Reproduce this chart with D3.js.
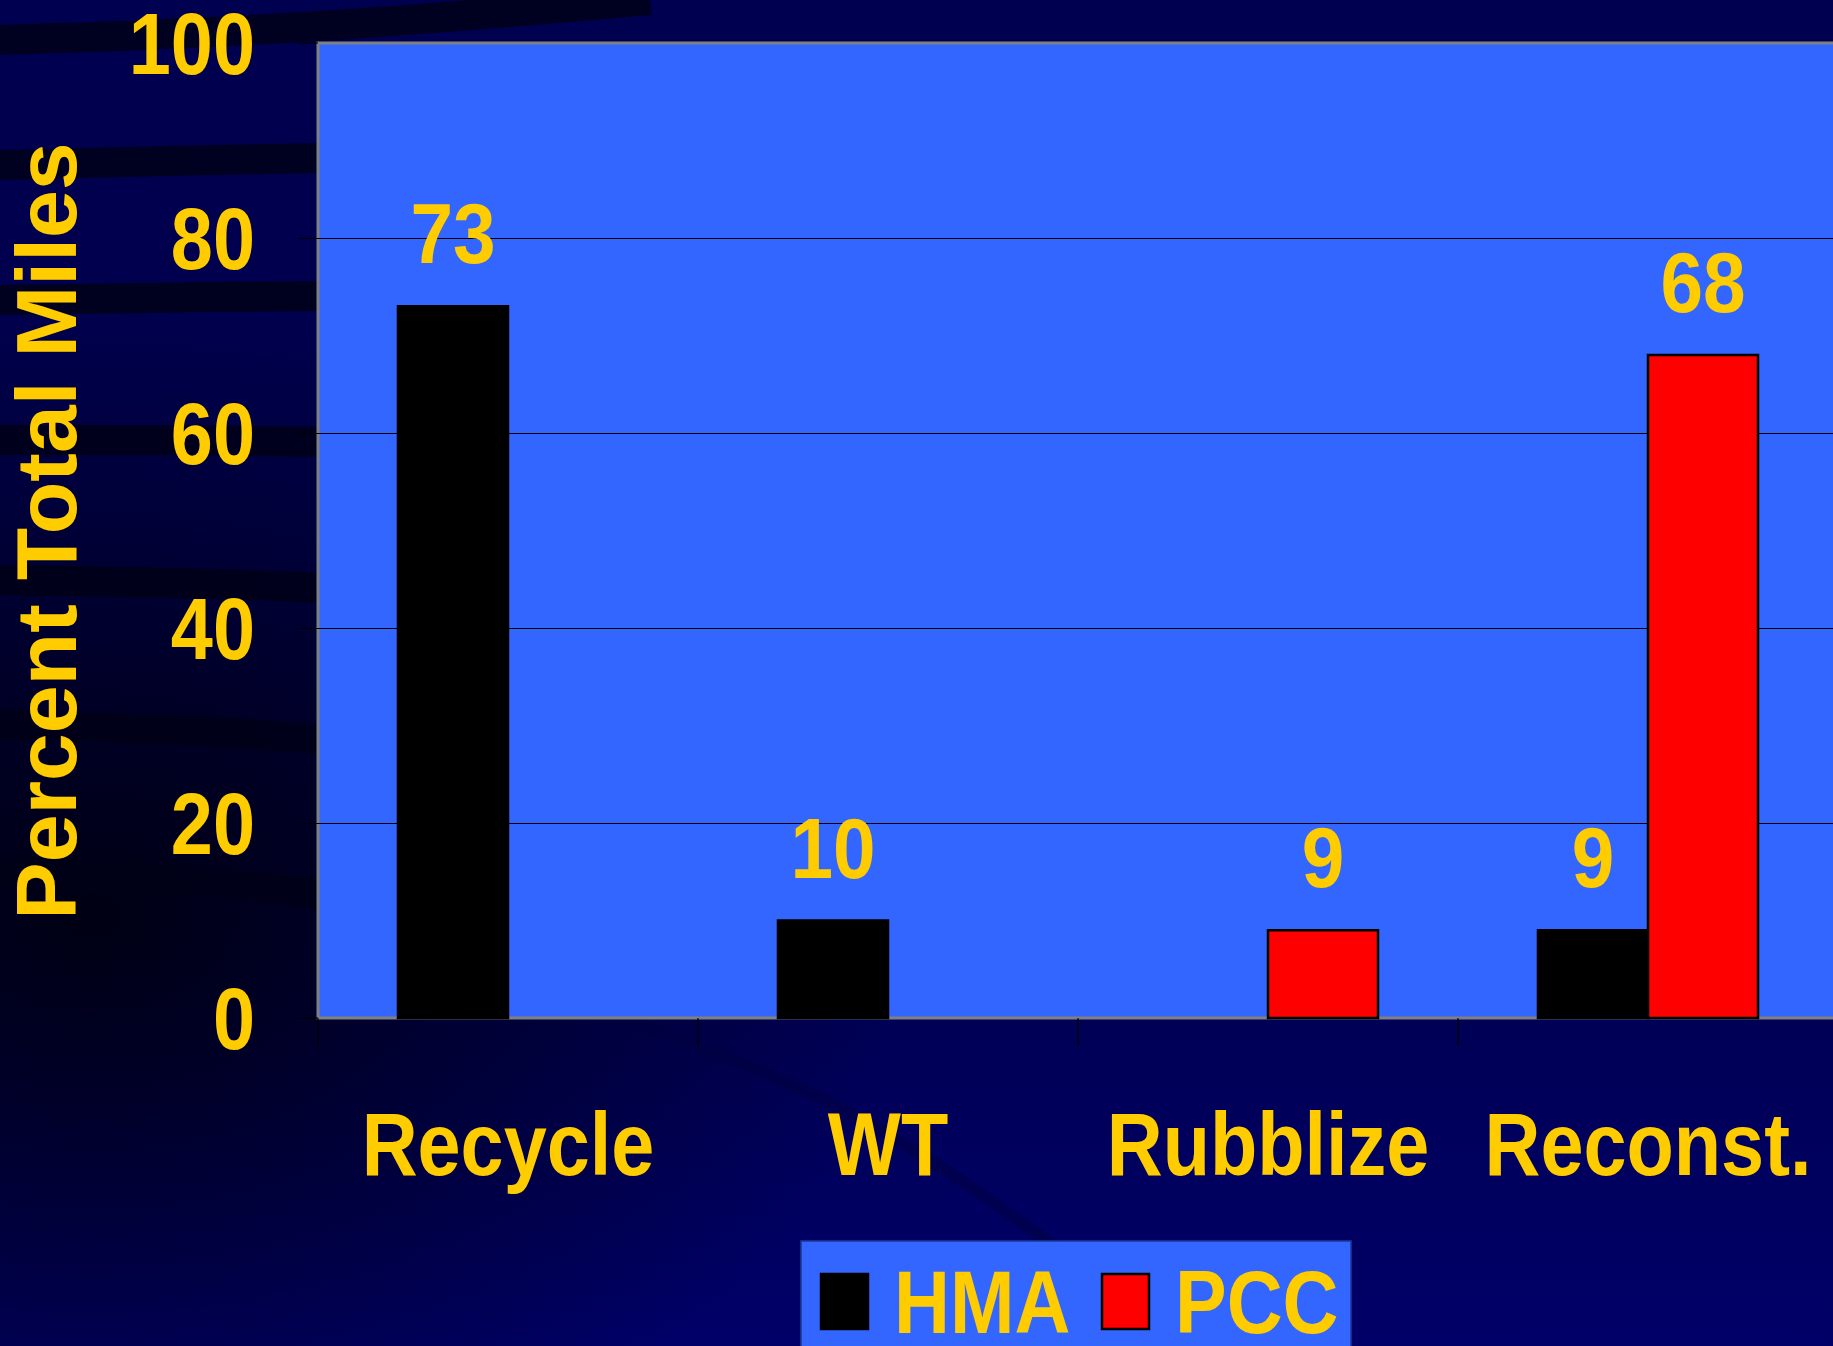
<!DOCTYPE html>
<html lang="en">
<head>
<meta charset="UTF-8">
<title>Percent Total Miles</title>
<script src="https://d3js.org/d3.v7.min.js"></script>
<style>
  body { margin: 0; background: #000058; overflow: hidden; }
  text { font-family: "Liberation Sans", Arial, sans-serif; font-weight: bold; fill: #FFCC00; }
</style>
</head>
<body>
<div id="chart"></div>
<script>
// data
const categories = ["Recycle", "WT", "Rubblize", "Reconst."];
const seriesNames = ["HMA", "PCC"];
const hmaValues = [73, 10, null, 9];
const pccValues = [null, null, 9, 68];
const yTicks = [0, 20, 40, 60, 80, 100];
const seriesColors = ["#000000", "#FF0000"];

const W = 1833, H = 1346;
const svg = d3.select("#chart").append("svg").attr("width", W).attr("height", H);

// background
const defs = svg.append("defs");
const bg = defs.append("linearGradient").attr("id", "bg").attr("x1", 0).attr("y1", 0).attr("x2", 0).attr("y2", 1);
bg.append("stop").attr("offset", "0%").attr("stop-color", "#000050");
bg.append("stop").attr("offset", "60%").attr("stop-color", "#00004a");
bg.append("stop").attr("offset", "100%").attr("stop-color", "#000068");
svg.append("rect").attr("width", W).attr("height", H).attr("fill", "url(#bg)");
const shade = defs.append("radialGradient").attr("id", "shade").attr("cx", 0.05).attr("cy", 0.68).attr("r", 0.45);
shade.append("stop").attr("offset", "0%").attr("stop-color", "#000010").attr("stop-opacity", 0.95);
shade.append("stop").attr("offset", "100%").attr("stop-color", "#000010").attr("stop-opacity", 0);
svg.append("rect").attr("width", W).attr("height", H).attr("fill", "url(#shade)");

// decorative swooshes
const swooshes = [
  [[0, 40], [300, 30], [650, 0]],
  [[0, 165], [200, 160], [330, 158]],
  [[0, 300], [200, 297], [330, 296]],
  [[0, 440], [200, 440], [330, 442]],
  [[0, 580], [200, 583], [330, 588]],
  [[0, 725], [200, 730], [330, 740]],
  [[0, 870], [200, 880], [330, 895]]
];
const swooshLine = d3.line().curve(d3.curveBasis);
svg.append("g").selectAll("path").data(swooshes).join("path")
  .attr("d", swooshLine).attr("fill", "none")
  .attr("stroke", "#000018").attr("stroke-width", 30).attr("opacity", 0.85);
svg.append("path")
  .attr("d", swooshLine([[620, 1018], [850, 1100], [1060, 1250]]))
  .attr("fill", "none").attr("stroke", "#000040").attr("stroke-width", 12).attr("opacity", 0.5);

// scales
const plotLeft = 318, plotRight = 1838, plotTop = 43, plotBottom = 1018;
const x = d3.scaleBand().domain(categories).range([plotLeft, plotRight]);
const xs = d3.scaleBand().domain(seriesNames).range([0, x.bandwidth()]).paddingOuter(0.727);
const y = d3.scaleLinear().domain([0, 100]).range([plotBottom, plotTop]);

// plot area
svg.append("rect").attr("x", plotLeft).attr("y", plotTop)
  .attr("width", plotRight - plotLeft).attr("height", plotBottom - plotTop)
  .attr("fill", "#3366FF").attr("stroke", "#808080").attr("stroke-width", 3);

// gridlines + y ticks
svg.append("g").selectAll("line").data(yTicks.filter(d => d > 0 && d < 100)).join("line")
  .attr("x1", plotLeft - 20).attr("x2", plotRight)
  .attr("y1", d => Math.round(y(d)) + 0.5).attr("y2", d => Math.round(y(d)) + 0.5)
  .attr("stroke", "#000000").attr("stroke-width", 1.2);
svg.append("g").selectAll("line").data([0, 100]).join("line")
  .attr("x1", plotLeft - 20).attr("x2", plotLeft)
  .attr("y1", d => y(d)).attr("y2", d => y(d))
  .attr("stroke", "#000000").attr("stroke-width", 1.2);

// x ticks
const xTicks = categories.map(c => x(c)).concat([plotRight]);
svg.append("g").selectAll("line").data(xTicks).join("line")
  .attr("x1", d => d).attr("x2", d => d)
  .attr("y1", plotBottom).attr("y2", plotBottom + 28)
  .attr("stroke", "#000000").attr("stroke-width", 1.2);

// helper for condensed text
function condensed(g, tx, ty, str, size, anchor, sx) {
  g.append("g").attr("transform", `translate(${tx},${ty}) scale(${sx},1)`)
    .append("text").attr("text-anchor", anchor).attr("font-size", size).text(str);
}

// y tick labels
const yLab = svg.append("g");
yTicks.forEach(t => condensed(yLab, 255, y(t) + 31, String(t), 88, "end", 0.86));

// y title
svg.append("text")
  .attr("transform", "translate(76,531) rotate(-90)")
  .attr("text-anchor", "middle").attr("font-size", 86)
  .text("Percent Total Miles");

// bars
const barData = [];
categories.forEach((c, i) => {
  [hmaValues[i], pccValues[i]].forEach((v, j) => {
    if (v != null) barData.push({ cat: c, series: seriesNames[j], value: v, color: seriesColors[j] });
  });
});
svg.append("g").selectAll("rect").data(barData).join("rect")
  .attr("x", d => x(d.cat) + xs(d.series))
  .attr("y", d => y(d.value))
  .attr("width", xs.bandwidth())
  .attr("height", d => y(0) - y(d.value))
  .attr("fill", d => d.color)
  .attr("stroke", "#000000").attr("stroke-width", 2.5);

// value labels
const valLab = svg.append("g");
barData.forEach(d => condensed(valLab, x(d.cat) + xs(d.series) + xs.bandwidth() / 2, y(d.value) - 43, String(d.value), 86, "middle", 0.89));

// category labels
const catLab = svg.append("g");
categories.forEach(c => condensed(catLab, x(c) + x.bandwidth() / 2, 1175, c, 89, "middle", 0.87));

// legend
const legend = svg.append("g");
legend.append("rect").attr("x", 801).attr("y", 1241).attr("width", 550).attr("height", 120)
  .attr("fill", "#3366FF").attr("stroke", "#1a3a99").attr("stroke-width", 1.5);
const legX = d3.scaleOrdinal().domain(seriesNames).range([821, 1102]);
seriesNames.forEach((s, i) => {
  legend.append("rect").attr("x", legX(s)).attr("y", 1274).attr("width", 47).attr("height", 55)
    .attr("fill", seriesColors[i]).attr("stroke", "#000000").attr("stroke-width", 2.5);
  condensed(legend, legX(s) + 73, 1333, s, 89, "start", 0.87);
});
</script>
</body>
</html>
